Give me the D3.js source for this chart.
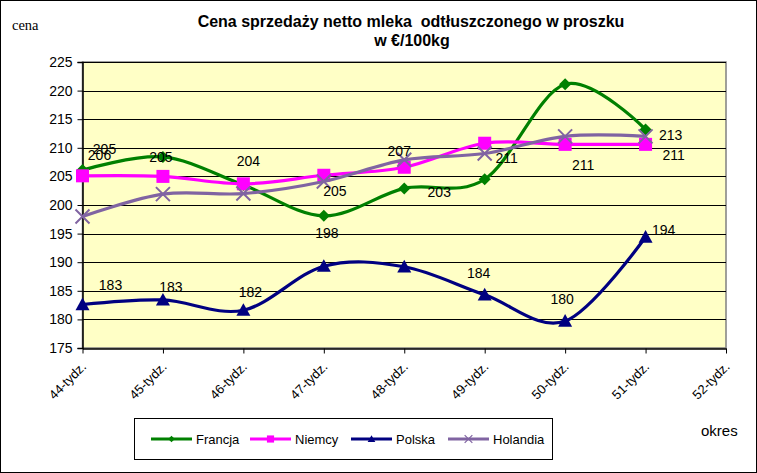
<!DOCTYPE html>
<html><head><meta charset="utf-8">
<script src="https://cdn.jsdelivr.net/npm/d3@7/dist/d3.min.js"></script>
<style>body{margin:0;background:#fff}svg{display:block}text{font-family:Arial,"Liberation Sans",sans-serif}</style>
</head><body>
<script>
const categories = ["44-tydz.","45-tydz.","46-tydz.","47-tydz.","48-tydz.","49-tydz.","50-tydz.","51-tydz.","52-tydz."];
const francja  = [206.1, 208.4, 203.5, 198.1, 202.9, 204.5, 221.1, 213.2];
const niemcy   = [205.1, 205.0, 203.7, 205.2, 206.6, 210.8, 210.6, 210.6];
const polska   = [182.6, 183.4, 181.6, 189.3, 189.2, 184.3, 179.7, 194.4];
const holandia = [198.0, 201.9, 202.0, 204.1, 207.9, 209.0, 212.0, 212.0];
const yTicks = [175,180,185,190,195,200,205,210,215,220,225];
const seriesNames = ["Francja","Niemcy","Polska","Holandia"];
// which points carry a value label (index into series)
const francjaLabeled = [0,3,4,7];
const niemcyLabeled = [0,1,2,3,4,5,6,7];
const polskaLabeled = [0,1,2,5,6,7];

// label placement offsets (layout, not data)
const labelOffsets = {
  Francja: [[17,-15],null,null,[3,17],[35,4],null,null,[25,5]],
  Niemcy: [[22,-27],[-2,-19],[5,-23],[11,16],[-5,-16],[22,15],[18,21],[28,11]],
  Polska: [[28,-20],[8,-13],[7,-18],null,null,[-6,-22],[-3,-22],[18,-7]]
};

const W=757,H=473;
const svg=d3.select("body").append("svg").attr("width",W).attr("height",H);
svg.append("rect").attr("x",0.5).attr("y",0.5).attr("width",W-1).attr("height",H-1).attr("fill","#fff").attr("stroke","#000");

const x=d3.scalePoint().domain(categories).range([82.5,726]);
const y=d3.scaleLinear().domain([175,225]).range([348,62]);

// plot area
svg.append("rect").attr("x",82.5).attr("y",62).attr("width",726-82.5).attr("height",348-62)
  .attr("fill","#FFFFC6").attr("stroke","#808080").attr("stroke-width",1.5);
// gridlines
svg.append("g").selectAll("line").data(yTicks.filter(d=>d>175)).join("line")
  .attr("x1",82.5).attr("x2",726).attr("y1",d=>Math.round(y(d))+0.5).attr("y2",d=>Math.round(y(d))+0.5)
  .attr("stroke","#000").attr("stroke-width",1);

// axes
const yAxis=svg.append("g").attr("transform","translate(82.5,0)")
  .call(d3.axisLeft(y).tickValues(yTicks).tickSize(5).tickPadding(5).tickFormat(d3.format("d")));
yAxis.select(".domain").attr("stroke","#000").attr("stroke-width",1.5);
yAxis.selectAll(".tick line").attr("stroke","#000");
yAxis.selectAll("text").attr("font-size",14).attr("fill","#000").attr("font-family","Arial, 'Liberation Sans', sans-serif");

const xAxis=svg.append("g").attr("transform","translate(0,348.5)")
  .call(d3.axisBottom(x).tickSize(5).tickPadding(3).tickSizeOuter(0));
xAxis.select(".domain").attr("stroke","#000").attr("stroke-width",1.5);
xAxis.selectAll(".tick line").attr("stroke","#000");
xAxis.selectAll("text").attr("font-size",13).attr("fill","#000")
  .attr("font-family","Arial, 'Liberation Sans', sans-serif")
  .attr("text-anchor","end").attr("dy",0).attr("y",0)
  .attr("transform","translate(4,19) rotate(-45)");

const curve=d3.curveCardinal.tension(0);
const line=d3.line().x((d,i)=>x(categories[i])).y(d=>y(d)).curve(curve);

const series=[
  {name:"Francja",values:francja,color:"#008000",marker:"diamond"},
  {name:"Niemcy",values:niemcy,color:"#FF00FF",marker:"square"},
  {name:"Polska",values:polska,color:"#000080",marker:"triangle"},
  {name:"Holandia",values:holandia,color:"#8064A2",marker:"x"}
];
const labeled={Francja:francjaLabeled,Niemcy:niemcyLabeled,Polska:polskaLabeled,Holandia:[]};

function drawMarker(g,type,color,cx,cy,scale){
  scale=scale||1;
  if(type==="diamond"){
    const s=6*scale;
    g.append("path").attr("d",`M${cx},${cy-s}L${cx+s},${cy}L${cx},${cy+s}L${cx-s},${cy}Z`).attr("fill",color);
  } else if(type==="square"){
    const s=6.5*scale;
    g.append("rect").attr("x",cx-s).attr("y",cy-s).attr("width",2*s).attr("height",2*s).attr("fill",color);
  } else if(type==="triangle"){
    const s=7*scale;
    g.append("path").attr("d",`M${cx},${cy-s}L${cx+s},${cy+s*0.8}L${cx-s},${cy+s*0.8}Z`).attr("fill",color);
  } else {
    const s=7*scale;
    g.append("path").attr("d",`M${cx-s},${cy-s}L${cx+s},${cy+s}M${cx+s},${cy-s}L${cx-s},${cy+s}`)
      .attr("stroke",color).attr("stroke-width",2*Math.max(scale,0.6)).attr("fill","none");
  }
}

series.forEach(s=>{
  const g=svg.append("g");
  g.append("path").datum(s.values).attr("d",line).attr("fill","none")
    .attr("stroke",s.color).attr("stroke-width",3.2);
  s.values.forEach((v,i)=>drawMarker(g,s.marker,s.color,x(categories[i]),y(v)));
});

// value labels
series.forEach(s=>{
  labeled[s.name].forEach(i=>{
    const off=labelOffsets[s.name][i];
    svg.append("text").attr("x",x(categories[i])+off[0]).attr("y",y(s.values[i])+off[1])
      .attr("text-anchor","middle").attr("dy","0.36em").attr("font-size",14).attr("fill","#000")
      .text(Math.round(s.values[i]));
  });
});

// title
svg.append("text").attr("x",411).attr("y",27).attr("text-anchor","middle").attr("font-weight","bold")
  .attr("font-size",16).style("white-space","pre").text("Cena sprzedaży netto mleka  odtłuszczonego w proszku");
svg.append("text").attr("x",412).attr("y",46).attr("text-anchor","middle").attr("font-weight","bold")
  .attr("font-size",16).text("w €/100kg");
svg.append("text").attr("x",12).attr("y",30).attr("font-size",14.5)
  .style("font-family","'Liberation Serif','Times New Roman',serif").text("cena");
svg.append("text").attr("x",701).attr("y",436).attr("font-size",15).text("okres");

// legend
const lg=svg.append("g");
lg.append("rect").attr("x",134.5).attr("y",418.5).attr("width",418).attr("height",41).attr("fill","#fff").attr("stroke","#000");
const legX=[151,250,351,448];
series.forEach((s,i)=>{
  const lx=legX[i], ly=439;
  lg.append("line").attr("x1",lx).attr("x2",lx+41).attr("y1",ly).attr("y2",ly).attr("stroke",s.color).attr("stroke-width",3);
  drawMarker(lg,s.marker,s.color,lx+20.5,ly,0.55);
  lg.append("text").attr("x",lx+45).attr("y",ly).attr("dy","0.36em").attr("font-size",13).text(seriesNames[i]);
});
</script>
</body></html>
